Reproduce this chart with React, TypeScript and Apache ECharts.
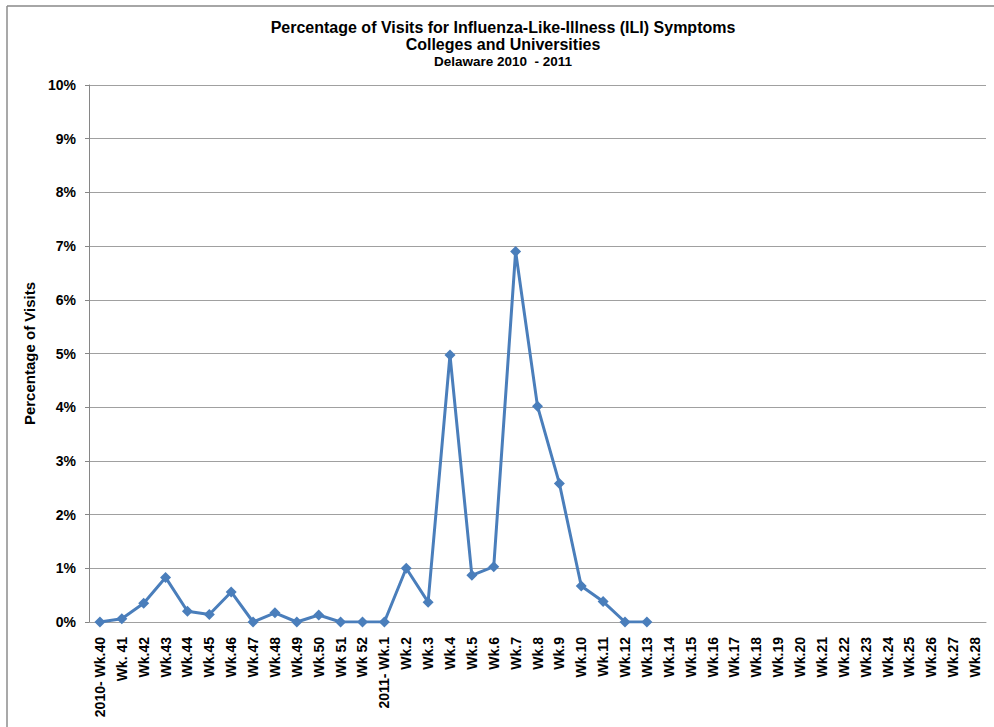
import React, { useEffect, useRef } from "react";
import * as echarts from "echarts";

const weekLabels: string[] = [
  "2010- Wk.40", "Wk. 41", "Wk.42", "Wk.43", "Wk.44", "Wk.45", "Wk.46", "Wk.47", "Wk.48", "Wk.49",
  "Wk.50", "Wk 51", "Wk 52", "2011- Wk.1", "Wk.2", "Wk.3", "Wk.4", "Wk.5", "Wk.6", "Wk.7",
  "Wk.8", "Wk.9", "Wk.10", "Wk.11", "Wk.12", "Wk.13", "Wk.14", "Wk.15", "Wk.16", "Wk.17",
  "Wk.18", "Wk.19", "Wk.20", "Wk.21", "Wk.22", "Wk.23", "Wk.24", "Wk.25", "Wk.26", "Wk.27", "Wk.28",
];

const iliPercent: (number | null)[] = [
  0, 0.06, 0.35, 0.83, 0.2, 0.14, 0.56, 0, 0.17, 0,
  0.13, 0, 0, 0, 1.0, 0.37, 4.97, 0.87, 1.03, 6.9,
  4.02, 2.58, 0.67, 0.38, 0, 0, null, null, null, null,
  null, null, null, null, null, null, null, null, null, null, null,
];

const titleLines: string[] = [
  "Percentage of Visits for Influenza-Like-Illness (ILI) Symptoms",
  "Colleges and Universities",
];
const subtitle = "Delaware 2010  - 2011";
const yAxisName = "Percentage of Visits";

export default function App() {
  const ref = useRef<HTMLDivElement>(null);
  useEffect(() => {
    if (!ref.current) return;
    const chart = echarts.init(ref.current, null, { renderer: "svg" });
    const font = "Arial, 'Liberation Sans', sans-serif";
    chart.setOption({
      animation: false,
      backgroundColor: "#ffffff",
      title: {
        text: titleLines.join("\n"),
        subtext: subtitle,
        left: 498,
        textAlign: "center",
        top: 14,
        itemGap: 1,
        textStyle: { fontFamily: font, fontSize: 16, fontWeight: "bold", color: "#000", lineHeight: 17 },
        subtextStyle: { fontFamily: font, fontSize: 13.5, fontWeight: "bold", color: "#000" },
      },
      graphic: [
        { type: "line", shape: { x1: 7, y1: 6, x2: 994, y2: 6 }, style: { stroke: "#a6a6a6", lineWidth: 2 } },
        { type: "line", shape: { x1: 7, y1: 6, x2: 7, y2: 727 }, style: { stroke: "#8c8c8c", lineWidth: 1.5 } },
      ],
      grid: { left: 89, right: 8, top: 85, bottom: 105, containLabel: false },
      xAxis: {
        type: "category",
        data: weekLabels,
        boundaryGap: true,
        axisLine: { lineStyle: { color: "#a0a0a0", width: 1 } },
        axisTick: { show: false },
        axisLabel: {
          rotate: 90,
          interval: 0,
          margin: 15,
          fontFamily: font,
          fontSize: 14,
          fontWeight: "bold",
          color: "#000",
        },
      },
      yAxis: {
        type: "value",
        min: 0,
        max: 10,
        interval: 1,
        name: yAxisName,
        nameLocation: "middle",
        nameGap: 52,
        nameTextStyle: { fontFamily: font, fontSize: 15, fontWeight: "bold", color: "#000" },
        axisLine: { show: true, lineStyle: { color: "#868686", width: 1 } },
        axisTick: { show: true, length: 4, lineStyle: { color: "#868686" } },
        splitLine: { lineStyle: { color: "#a0a0a0", width: 1 } },
        axisLabel: {
          formatter: "{value}%",
          margin: 13,
          fontFamily: font,
          fontSize: 14,
          fontWeight: "bold",
          color: "#000",
        },
      },
      series: [
        {
          type: "line",
          data: iliPercent,
          connectNulls: false,
          symbol: "diamond",
          symbolSize: 11,
          itemStyle: { color: "#4a7ebb" },
          lineStyle: { color: "#4a7ebb", width: 3 },
        },
      ],
    });
    return () => chart.dispose();
  }, []);
  return <div ref={ref} style={{ position: "absolute", left: 0, top: 0, width: 994, height: 727 }} />;
}
